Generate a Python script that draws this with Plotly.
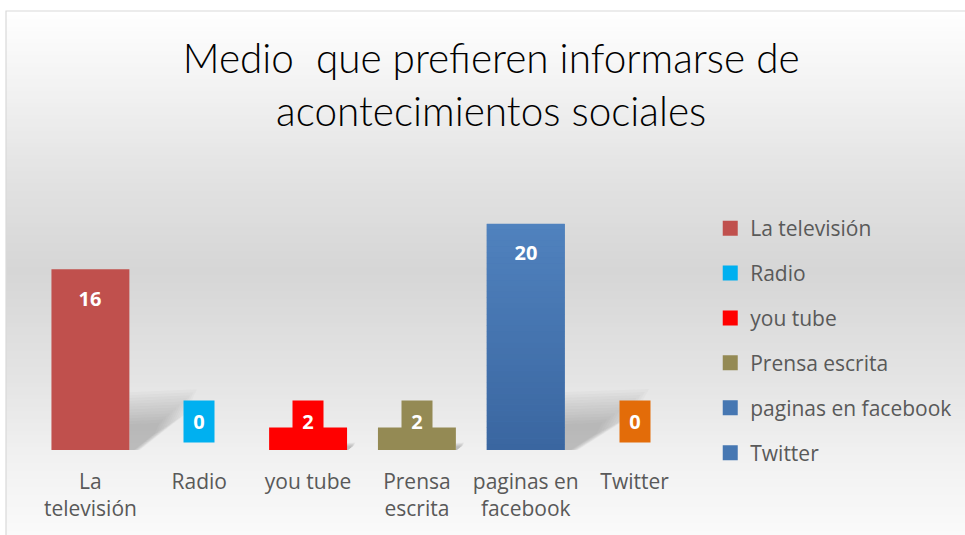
import plotly.graph_objects as go

categories = ["La televisión", "Radio", "you tube", "Prensa escrita", "paginas en facebook", "Twitter"]
tick_labels = ["La<br>televisión", "Radio", "you tube", "Prensa<br>escrita", "paginas en<br>facebook", "Twitter"]
values = [16, 0, 2, 2, 20, 0]
bar_colors = ["#C0504D", "#00B0F0", "#FF0000", "#948A54", "#4677B2", "#E36C09"]
legend_colors = ["#C0504D", "#00B0F0", "#FF0000", "#948A54", "#4677B2", "#4677B2"]
title_text = "Medio  que prefieren informarse de<br>acontecimientos sociales"

W, H = 965, 535
ML, MR, MT, MB = 36, 276, 190, 85
YMAX = 23
BAR_W = 0.716
FONT = "Open Sans, Calibri, Carlito, sans-serif"
GREY = "#595959"

fig = go.Figure()
x_idx = list(range(len(categories)))
for i, (c, v) in enumerate(zip(categories, values)):
    fig.add_trace(go.Bar(
        x=[i], y=[v], name=c, width=BAR_W,
        marker=dict(color=bar_colors[i], line=dict(width=0)),
        showlegend=False, hoverinfo="skip"))
for i, c in enumerate(categories):
    fig.add_trace(go.Scatter(
        x=[None], y=[None], name=c, legendgroup=c, mode="markers",
        marker=dict(color=legend_colors[i], symbol="square", size=15),
        showlegend=True))

def px2fx(px):
    return (px - ML) / (W - ML - MR)

def py2fy(py):
    return (H - MB - py) / (H - MT - MB)

stops = [(11, 255), (100, 240), (180, 226), (270, 214), (380, 228), (450, 240), (535, 250)]

def grey_at(py):
    for (a, ca), (b, cb) in zip(stops[:-1], stops[1:]):
        if a <= py <= b:
            t = (py - a) / (b - a)
            return int(round(ca + (cb - ca) * t))
    return stops[-1][1]

shapes = []
step = 4
py = 11
while py < H:
    g = grey_at(py + step / 2)
    shapes.append(dict(type="rect", xref="paper", yref="paper",
                       x0=px2fx(6), x1=px2fx(W + 5), y0=py2fy(py), y1=py2fy(py + step + 0.5),
                       fillcolor=f"rgb({g},{g},{g})", line=dict(width=0), layer="below"))
    py += step
shapes.append(dict(type="rect", xref="paper", yref="paper",
                   x0=px2fx(6), x1=px2fx(W + 5), y0=py2fy(11), y1=py2fy(H + 5),
                   fillcolor="rgba(0,0,0,0)", line=dict(color="#D9D9D9", width=1.2), layer="below"))

# soft perspective shadows behind bars (many faint layers to mimic blur)
for i, v in enumerate(values):
    if v <= 0:
        continue
    x0 = i + BAR_W / 2
    L = 0.034 * v
    Hs = min(v * 0.28, 4.5)
    n = 12
    for k in range(n):
        sc = 1.2 - 0.06 * k
        path = (f"M {x0},0 L {x0},{Hs*sc*0.95} L {x0 + L*sc*0.95},{Hs*sc} "
                f"L {x0 + L*sc*0.8},{Hs*sc*0.6} L {x0 + 0.15*L*sc},0 Z")
        shapes.append(dict(type="path", xref="x", yref="y", path=path,
                           fillcolor="rgba(60,60,60,0.028)", line=dict(width=0), layer="below"))

# vertical gradient fill on the 'paginas en facebook' bar (light top -> darker bottom)
fb = categories.index("paginas en facebook")
top_rgb, bot_rgb = (80, 130, 190), (58, 102, 160)
nseg = 40
for k in range(nseg):
    t = (k + 0.5) / nseg
    col = tuple(int(round(bot_rgb[j] + (top_rgb[j] - bot_rgb[j]) * t)) for j in range(3))
    shapes.append(dict(type="rect", xref="x", yref="y",
                       x0=fb - BAR_W / 2, x1=fb + BAR_W / 2,
                       y0=values[fb] * k / nseg, y1=values[fb] * (k + 1.05) / nseg,
                       fillcolor=f"rgb{col}", line=dict(width=0), layer="above"))

annotations = []
px_per_unit = (H - MT - MB) / YMAX
for i, v in enumerate(values):
    big = v * px_per_unit > 60
    annotations.append(dict(
        x=i, y=v if big else 0, xref="x", yref="y",
        text=f"<b>{v}</b>", showarrow=False,
        yshift=-29 if big else 29,
        font=dict(family=FONT, size=20, color="white"),
        bgcolor=None if big else bar_colors[i],
        width=30, height=41, borderpad=0))

fig.update_layout(
    width=W, height=H,
    margin=dict(l=ML, r=MR, t=MT, b=MB),
    paper_bgcolor="white", plot_bgcolor="rgba(0,0,0,0)",
    barmode="overlay",
    title=dict(text=title_text, x=0.509, xref="container", xanchor="center",
               y=1 - 73 / H, yref="container", yanchor="middle",
               font=dict(family="Lato, Calibri Light, sans-serif", size=40.5, weight=300, color="black")),
    xaxis=dict(tickmode="array", tickvals=x_idx, ticktext=tick_labels,
               range=[-0.5, len(categories) - 0.5], showgrid=False, zeroline=False,
               showline=False, ticks="", ticklabelstandoff=17,
               tickfont=dict(family=FONT, size=21, color=GREY)),
    yaxis=dict(range=[0, YMAX], visible=False, showgrid=False, zeroline=False),
    legend=dict(xref="container", yref="container", x=0.736, y=1 - 208 / H,
                xanchor="left", yanchor="top", bgcolor="rgba(0,0,0,0)",
                font=dict(family=FONT, size=21, color=GREY), maxheight=420,
                tracegroupgap=14.6, itemclick=False),
    shapes=shapes, annotations=annotations,
    showlegend=True,
)

fig.write_html("out.html", config={"displayModeBar": False},
               post_script="document.body.style.margin='0';document.body.style.overflow='hidden';")
